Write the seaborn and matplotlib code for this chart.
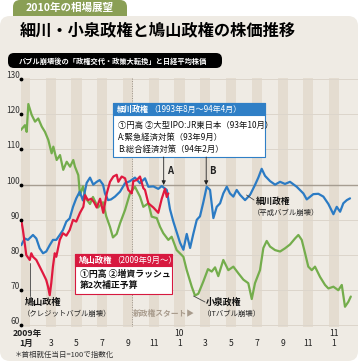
import numpy as np
import pandas as pd
import matplotlib
matplotlib.use("Agg")
import matplotlib.pyplot as plt
import seaborn as sns
from matplotlib.patches import FancyBboxPatch, Rectangle
from matplotlib.transforms import blended_transform_factory

sns.set_theme(style="white")
plt.rcParams['font.family'] = ['Noto Sans CJK JP', 'DejaVu Sans']

# ---------------- data (month index: 0 = 2009年1月, index value: inauguration day = 100)
koizumi_month = [-0.33, 0.0, 0.13, 0.26, 0.52, 0.78, 1.03, 1.30, 1.55, 1.81, 2.07, 2.20, 2.46, 2.72,
                 2.97, 3.24, 3.50, 3.75, 3.88, 4.14, 4.27, 4.50, 4.74, 5.05, 5.28, 5.67, 6.06, 6.31,
                 6.60, 6.83, 7.12, 7.38, 7.77, 8.16, 8.54, 8.93, 9.19, 9.58, 9.84, 10.23, 10.49,
                 10.74, 11.13, 11.39, 11.78, 12.30, 12.56, 12.95, 13.20, 13.46, 13.85, 14.21, 14.50,
                 14.76, 15.01, 15.40, 15.79, 16.18, 16.57, 16.96, 17.34, 17.61, 17.86, 18.25, 18.51,
                 18.77, 19.03, 19.42, 19.81, 20.19, 20.58, 20.97, 21.23, 21.49, 21.75, 22.00, 22.27,
                 22.52, 22.91, 23.30, 23.56, 23.95, 24.33, 24.60, 24.85, 25.11, 25.30]
koizumi_value = [115.5, 116.9, 115.0, 122.9, 119.8, 117.9, 118.8, 116.5, 115.0, 112.7, 108.9, 110.8,
                 107.0, 108.4, 104.2, 106.5, 105.1, 107.0, 105.1, 102.7, 97.0, 99.5, 96.0, 94.5,
                 96.5, 93.5, 95.0, 91.0, 88.0, 85.0, 86.0, 89.0, 92.8, 97.6, 99.4, 96.6, 93.7, 94.7,
                 90.9, 90.5, 88.0, 86.2, 84.3, 85.2, 81.4, 79.5, 75.7, 71.0, 68.5, 69.0, 72.5, 76.0,
                 75.3, 76.5, 74.0, 78.6, 75.7, 76.7, 74.8, 73.0, 72.0, 67.5, 72.0, 75.7, 82.0, 84.0,
                 82.4, 81.4, 81.0, 81.9, 83.0, 84.7, 85.7, 84.3, 80.5, 76.7, 75.7, 76.7, 73.8, 71.5,
                 70.5, 71.0, 70.0, 71.5, 65.3, 66.7, 68.2]

hosokawa_month = [-0.29, -0.02, 0.23, 0.62, 0.88, 1.14, 1.40, 1.65, 1.92, 2.17, 2.43, 2.70, 2.95,
                  3.21, 3.47, 3.73, 3.98, 4.25, 4.50, 4.79, 5.05, 5.30, 5.57, 5.80, 6.06, 6.21, 6.45,
                  6.68, 6.99, 7.38, 7.77, 8.16, 8.54, 8.93, 9.32, 9.58, 9.97, 10.35, 10.62, 11.01,
                  11.26, 11.52, 11.78, 12.04, 12.30, 12.56, 12.82, 13.07, 13.34, 13.59, 13.85, 14.11,
                  14.37, 14.63, 14.89, 15.15, 15.40, 15.67, 15.92, 16.18, 16.44, 16.70, 17.09, 17.48,
                  17.86, 18.12, 18.38, 18.64, 19.03, 19.42, 19.81, 20.19, 20.58, 21.10, 21.62, 21.88,
                  22.39, 22.78, 23.17, 23.56, 23.95, 24.21, 24.47, 24.72, 24.99, 25.24]
hosokawa_value = [82.8, 84.7, 84.3, 85.7, 84.7, 81.9, 80.5, 81.0, 82.8, 84.3, 84.3, 85.7, 87.1, 89.5,
                  90.4, 93.7, 96.1, 98.0, 95.5, 100.5, 102.0, 100.0, 100.8, 101.3, 100.0, 97.5, 95.6,
                  95.8, 96.6, 98.0, 100.4, 101.0, 102.0, 100.4, 101.8, 99.4, 99.5, 98.8, 99.6, 98.5,
                  93.0, 89.5, 86.5, 83.5, 81.5, 86.0, 82.0, 86.0, 90.0, 91.0, 95.0, 99.4, 98.5, 90.5,
                  93.7, 94.7, 97.5, 99.4, 97.5, 96.6, 98.5, 97.1, 95.6, 97.1, 99.9, 102.0, 104.5,
                  102.5, 101.0, 100.0, 100.8, 100.2, 100.8, 99.4, 97.5, 95.8, 97.3, 97.4, 96.6, 94.5,
                  91.6, 93.7, 92.3, 94.7, 95.6, 96.1]

hatoyama_month = [-0.29, -0.16, -0.02, 0.10, 0.37, 0.49, 0.62, 0.88, 1.14, 1.40, 1.65, 1.79, 1.92,
                  2.04, 2.17, 2.31, 2.43, 2.70, 2.95, 3.21, 3.47, 3.73, 3.98, 4.27, 4.53, 4.66, 4.89,
                  5.15, 5.36, 5.57, 5.83, 6.08, 6.35, 6.60, 6.86, 7.12, 7.25, 7.51, 7.77, 8.02, 8.29,
                  8.41, 8.68, 8.93, 9.19, 9.32, 9.58, 9.97, 10.35, 10.62, 10.87, 11.01, 11.13]
hatoyama_value = [89.9, 87.1, 83.3, 80.0, 78.6, 80.5, 79.5, 78.6, 76.7, 74.8, 72.9, 71.0, 68.6, 72.0,
                  76.7, 80.5, 79.5, 84.3, 86.2, 85.5, 87.1, 90.0, 89.5, 92.0, 93.7, 97.0, 95.6, 96.0,
                  95.0, 93.5, 96.0, 92.0, 97.5, 100.8, 102.3, 102.8, 100.8, 102.3, 101.8, 98.5, 97.5,
                  101.0, 101.3, 102.3, 99.0, 98.5, 94.7, 93.5, 92.0, 96.0, 98.8, 96.5, 97.5]

series_names = ["小泉政権", "細川政権", "鳩山政権"]
series_colors = ["#74ad4c", "#2b7bc4", "#e0193f"]

y_ticks = [60, 70, 80, 90, 100, 110, 120, 130]
x_tick_months = [0, 2, 4, 6, 8, 10, 12, 14, 16, 18, 20, 22, 24]
x_tick_labels = ["1月", "3", "5", "7", "9", "11", "1", "3", "5", "7", "9", "11", "1"]
year_labels = {0: "2009年", 12: "10", 24: "11"}
new_gov_month = 8.29

df = pd.concat([
    pd.DataFrame({"month": koizumi_month, "value": koizumi_value, "series": series_names[0]}),
    pd.DataFrame({"month": hosokawa_month, "value": hosokawa_value, "series": series_names[1]}),
    pd.DataFrame({"month": hatoyama_month, "value": hatoyama_value, "series": series_names[2]}),
], ignore_index=True)

PANEL = "#efebe4"
STRIPE = "#e4dcd0"
TAB = "#8a9f55"
BLUE_H = "#2f7fc6"
RED_H = "#d7193f"

fig = plt.figure(figsize=(3.6, 3.63), dpi=100)
fig.patch.set_facecolor("white")

# ---------------- background layer (pixel coordinates)
bg = fig.add_axes([0, 0, 1, 1], zorder=0)
bg.set_xlim(0, 360); bg.set_ylim(363, 0); bg.axis("off")
bg.add_patch(FancyBboxPatch((13, 0), 114, 24, boxstyle="round,pad=0,rounding_size=7",
                            fc=TAB, ec="none"))
bg.add_patch(FancyBboxPatch((0, 16), 358, 345, boxstyle="round,pad=0,rounding_size=10",
                            fc=PANEL, ec="none"))
bg.text(70, 8, "2010年の相場展望", color="white", fontsize=7.6, fontweight="bold",
        ha="center", va="center")
bg.text(20, 30, "細川・小泉政権と鳩山政権の株価推移", color="black", fontsize=11.7,
        fontweight="bold", ha="left", va="center")
bg.add_patch(FancyBboxPatch((8, 53), 214, 15, boxstyle="round,pad=0,rounding_size=6",
                            fc="black", ec="none"))
bg.text(19, 60.8, "バブル崩壊後の「政権交代・政策大転換」と日経平均株価", color="white",
        fontsize=5.2, fontweight="bold", ha="left", va="center")
bg.text(15, 355, "＊首相就任当日=100で指数化", color="#333333", fontsize=5.4,
        ha="left", va="center")

# ---------------- main chart
ax = fig.add_axes([21 / 360, 1 - 327 / 363, 337 / 360, 249 / 363], zorder=1)
ax.set_facecolor("none")
ax.set_xlim(-0.31, 25.86)
ax.set_ylim(59.55, 130.3)

for m in x_tick_months:
    ax.axvspan(m - 0.39, m + 0.39, color=STRIPE, lw=0, zorder=0)
for v in y_ticks:
    if v == 100:
        ax.axhline(v, color="#a69d91", lw=1.0, zorder=0.5)
    else:
        ax.axhline(v, color="#dcd5cb", lw=0.7, zorder=0.5)
ax.axvline(new_gov_month, color="#9a9288", lw=0.7, ls=(0, (1, 1.5)), zorder=0.6)

sns.lineplot(data=df, x="month", y="value", hue="series", hue_order=series_names,
             palette=series_colors, estimator=None, sort=False, legend=False,
             linewidth=1.6, ax=ax, zorder=2)

ax.scatter([-0.31] * len(y_ticks), y_ticks, s=3, color="black", clip_on=False, zorder=3)
for v in y_ticks:
    ax.text(-0.42, v + 1.0, str(v), ha="right", va="center", fontsize=6.0, color="#333333")

trans = blended_transform_factory(ax.transData, ax.transAxes)
for m, lab in zip(x_tick_months, x_tick_labels):
    ax.text(m + (0.1 if m == 0 else 0), -0.068, lab, transform=trans, ha="center", va="center",
            fontsize=6.2, color="#222222", fontweight="bold" if m == 0 else "normal")
for m, lab in year_labels.items():
    ax.text(m + (0.2 if m == 0 else 0), -0.026, lab, transform=trans, ha="center", va="center",
            fontsize=6.2, color="#222222", fontweight="bold" if m == 0 else "normal")
ax.axis("off")

# ---------------- annotation layer (pixel coordinates)
fg = fig.add_axes([0, 0, 1, 1], zorder=3)
fg.set_xlim(0, 360); fg.set_ylim(363, 0); fg.axis("off")
fg.patch.set_alpha(0)

# Hosokawa box
fg.add_patch(Rectangle((113, 103), 152, 54, fc="white", ec=BLUE_H, lw=0.8))
fg.add_patch(Rectangle((113, 103), 152, 12, fc=BLUE_H, ec=BLUE_H, lw=0.8))
t1 = fg.text(117, 109.3, "細川政権", color="white", fontsize=5.8, fontweight="bold",
             ha="left", va="center")
fg.annotate("（1993年8月～94年4月）", xy=(1, 0.5), xycoords=t1, color="white", fontsize=5.8,
            ha="left", va="center")
for yy, s in [(125, "①円高 ②大型IPO:JR東日本（93年10月）"),
              (137.3, "A:緊急経済対策（93年9月）"),
              (149.3, "B:総合経済対策（94年2月）")]:
    fg.text(118, yy, s, fontsize=6.0, color="#111111", ha="left", va="center")

# Hatoyama box
fg.add_patch(Rectangle((75, 254), 97, 40, fc="white", ec=RED_H, lw=0.8))
fg.add_patch(Rectangle((75, 254), 97, 11.5, fc=RED_H, ec=RED_H, lw=0.8))
t2 = fg.text(78.5, 260, "鳩山政権", color="white", fontsize=6.0, fontweight="bold",
             ha="left", va="center")
fg.annotate("（2009年9月～）", xy=(1, 0.5), xycoords=t2, color="white", fontsize=6.0,
            ha="left", va="center")
fg.text(79.5, 274.5, "①円高 ②増資ラッシュ", fontsize=6.4, fontweight="bold", color="#111111",
        ha="left", va="center")
fg.text(79.5, 285.5, "第2次補正予算", fontsize=6.4, fontweight="bold", color="#111111",
        ha="left", va="center")

# arrows A / B
for x, lab in [(163.7, "A"), (206.2, "B")]:
    fg.annotate("", xy=(x, 185), xytext=(x, 157),
                arrowprops=dict(arrowstyle="-|>", color="#222222", lw=0.6, mutation_scale=6,
                                shrinkA=0, shrinkB=0))
    fg.text(x + 6, 170.5, lab, fontsize=6.8, fontweight="bold", color="#222222",
            ha="center", va="center")

# series labels and leaders
fg.plot([30, 30], [263, 296], color="#444444", lw=0.6)
fg.text(25, 302, "鳩山政権", fontsize=6.6, fontweight="bold", color="#111111", ha="left", va="center")
fg.text(23, 313.5, "（クレジットバブル崩壊）", fontsize=5.3, color="#222222", ha="left", va="center")

fg.plot([193.5, 205], [296, 302], color="#444444", lw=0.6)
fg.text(206, 302.5, "小泉政権", fontsize=6.4, fontweight="bold", color="#111111", ha="left", va="center")
fg.text(203, 313.5, "（ITバブル崩壊）", fontsize=5.3, color="#222222", ha="left", va="center")

fg.plot([246.5, 254], [195, 200], color="#444444", lw=0.6)
fg.text(256, 201.5, "細川政権", fontsize=6.2, fontweight="bold", color="#111111", ha="left", va="center")
fg.text(253, 212.5, "（平成バブル崩壊）", fontsize=5.3, color="#222222", ha="left", va="center")

fg.text(133, 313.5, "新政権スタート▶", fontsize=5.6, fontweight="bold", color="#a89b8c",
        ha="left", va="center")

fig.savefig("out.png", dpi=100)
